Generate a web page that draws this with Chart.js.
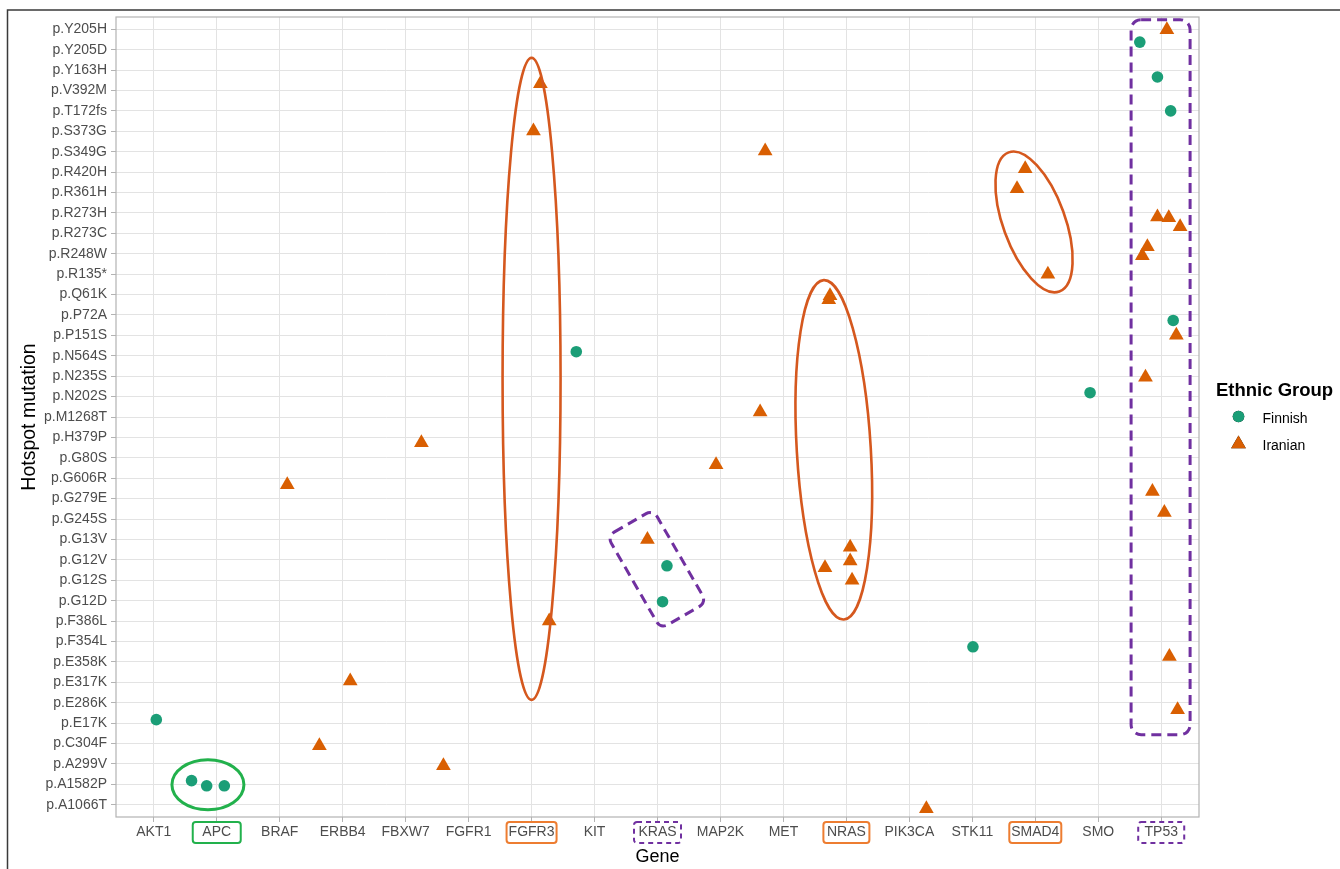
<!DOCTYPE html>
<html>
<head>
<meta charset="utf-8">
<script src="https://cdn.jsdelivr.net/npm/chart.js@4/dist/chart.umd.min.js"></script>
<style>
  html, body { margin: 0; padding: 0; background: #ffffff; }
  #wrap { width: 1340px; height: 869px; }
</style>
</head>
<body>
<div id="wrap"><canvas id="c" width="1340" height="869"></canvas></div>
<script>
// Genes along the x axis
const genes = ['AKT1', 'APC', 'BRAF', 'ERBB4', 'FBXW7', 'FGFR1', 'FGFR3', 'KIT', 'KRAS',
  'MAP2K', 'MET', 'NRAS', 'PIK3CA', 'STK11', 'SMAD4', 'SMO', 'TP53'];

// Hotspot mutations along the y axis, bottom to top
const mutations = ['p.A1066T', 'p.A1582P', 'p.A299V', 'p.C304F', 'p.E17K', 'p.E286K',
  'p.E317K', 'p.E358K', 'p.F354L', 'p.F386L', 'p.G12D', 'p.G12S', 'p.G12V', 'p.G13V',
  'p.G245S', 'p.G279E', 'p.G606R', 'p.G80S', 'p.H379P', 'p.M1268T', 'p.N202S', 'p.N235S',
  'p.N564S', 'p.P151S', 'p.P72A', 'p.Q61K', 'p.R135*', 'p.R248W', 'p.R273C', 'p.R273H',
  'p.R361H', 'p.R420H', 'p.S349G', 'p.S373G', 'p.T172fs', 'p.V392M', 'p.Y163H',
  'p.Y205D', 'p.Y205H'];

// Finnish cohort: gene, mutation and jitter (in category units)
const finnishGene = ['AKT1', 'APC', 'APC', 'APC', 'KIT', 'KRAS', 'KRAS', 'STK11', 'SMO',
  'TP53', 'TP53', 'TP53', 'TP53'];
const finnishMutation = ['p.E17K', 'p.A1582P', 'p.A1582P', 'p.A1582P', 'p.N564S', 'p.G12V',
  'p.G12D', 'p.F354L', 'p.N202S', 'p.Y205D', 'p.Y163H', 'p.T172fs', 'p.P72A'];
const finnishJitterX = [0.04, -0.40, -0.16, 0.12, -0.29, 0.15, 0.08, 0.01, -0.13,
  -0.34, -0.06, 0.15, 0.19];
const finnishJitterY = [0.17, 0.18, -0.07, -0.07, 0.20, -0.29, -0.05, -0.26, 0.19,
  0.37, -0.34, 0.00, -0.27];

// Iranian cohort: gene, mutation and jitter (in category units)
const iranianGene = ['BRAF', 'ERBB4', 'ERBB4', 'FBXW7', 'FGFR1', 'FGFR3', 'FGFR3', 'FGFR3',
  'KRAS', 'MAP2K', 'MET', 'MET', 'NRAS', 'NRAS', 'NRAS', 'NRAS', 'NRAS', 'NRAS', 'PIK3CA',
  'SMAD4', 'SMAD4', 'SMAD4', 'TP53', 'TP53', 'TP53', 'TP53', 'TP53', 'TP53', 'TP53',
  'TP53', 'TP53', 'TP53', 'TP53', 'TP53'];
const iranianMutation = ['p.G606R', 'p.E317K', 'p.C304F', 'p.H379P', 'p.A299V', 'p.V392M',
  'p.S373G', 'p.F386L', 'p.G13V', 'p.G80S', 'p.S349G', 'p.M1268T', 'p.Q61K', 'p.Q61K',
  'p.G13V', 'p.G12V', 'p.G12V', 'p.G12S', 'p.A1066T', 'p.R420H', 'p.R361H', 'p.R135*',
  'p.Y205H', 'p.R273H', 'p.R273H', 'p.R273C', 'p.R248W', 'p.R248W', 'p.P151S', 'p.N235S',
  'p.G279E', 'p.G245S', 'p.E358K', 'p.E286K'];
const iranianJitterX = [0.12, 0.12, -0.37, 0.25, -0.40, 0.14, 0.03, 0.28, -0.16, -0.07,
  -0.29, -0.37, -0.26, -0.28, 0.06, 0.06, -0.34, 0.09, 0.27, -0.16, -0.29, 0.20, 0.09,
  -0.06, 0.12, 0.30, -0.22, -0.30, 0.24, -0.25, -0.14, 0.05, 0.13, 0.26];
const iranianJitterY = [-0.32, 0.07, -0.11, -0.26, -0.09, 0.33, 0.02, 0.00, 0.00, -0.34,
  0.04, 0.25, -0.06, -0.25, -0.38, -0.05, -0.39, 0.00, -0.20, 0.16, 0.18, 0.00, -0.02,
  -0.20, -0.24, 0.32, 0.34, -0.10, 0.00, -0.05, 0.35, 0.32, 0.26, -0.34];

const FONT = '"Liberation Sans", Arial, Helvetica, sans-serif';
const GREEN = '#1b9e77';
const ORANGE = '#d95f02';

function toPoints(g, m, jx, jy) {
  return g.map((name, i) => ({
    x: genes.indexOf(name) + jx[i],
    y: mutations.indexOf(m[i]) + jy[i]
  }));
}

// Hand-drawn highlight shapes: centre given in category units, size in pixels
const highlightEllipses = [
  { gene: 0.86, mutation: 0.98, rx: 36, ry: 25, angle: 0, color: '#22b14c', width: 3 },
  { gene: 6.00, mutation: 20.87, rx: 29, ry: 321, angle: 0, color: '#d5581e', width: 2.6 },
  { gene: 10.80, mutation: 17.39, rx: 37, ry: 170, angle: -3.4, color: '#d5581e', width: 2.6 },
  { gene: 13.98, mutation: 28.56, rx: 31, ry: 74, angle: -20, color: '#d5581e', width: 2.6 }
];
const highlightFrames = [
  { gene: 7.99, mutation: 11.54, w: 53, h: 107, angle: -30, r: 8, color: '#7030a0' },
  { gene: 15.99, mutation: 20.95, w: 59, h: 715, angle: 0, r: 10, color: '#7030a0' }
];
const labelFrames = [
  { gene: 'APC', w: 48, color: '#22b14c', dashed: false },
  { gene: 'FGFR3', w: 50, color: '#ed7d31', dashed: false },
  { gene: 'KRAS', w: 47, color: '#7030a0', dashed: true },
  { gene: 'NRAS', w: 46, color: '#ed7d31', dashed: false },
  { gene: 'SMAD4', w: 52, color: '#ed7d31', dashed: false },
  { gene: 'TP53', w: 46, color: '#7030a0', dashed: true }
];

function roundRectPath(ctx, x, y, w, h, r) {
  ctx.beginPath();
  ctx.moveTo(x + r, y);
  ctx.lineTo(x + w - r, y);
  ctx.arcTo(x + w, y, x + w, y + r, r);
  ctx.lineTo(x + w, y + h - r);
  ctx.arcTo(x + w, y + h, x + w - r, y + h, r);
  ctx.lineTo(x + r, y + h);
  ctx.arcTo(x, y + h, x, y + h - r, r);
  ctx.lineTo(x, y + r);
  ctx.arcTo(x, y, x + r, y, r);
  ctx.closePath();
}

const decorations = {
  id: 'decorations',
  beforeDraw(chart) {
    const ctx = chart.ctx;
    ctx.save();
    ctx.fillStyle = '#ffffff';
    ctx.fillRect(0, 0, chart.width, chart.height);
    ctx.restore();
  },
  beforeDatasetsDraw(chart) {
    // panel border
    const { ctx, chartArea: a } = chart;
    ctx.save();
    ctx.strokeStyle = '#b3b3b3';
    ctx.lineWidth = 1.2;
    ctx.strokeRect(a.left, a.top, a.right - a.left, a.bottom - a.top);
    ctx.restore();
  },
  afterDraw(chart) {
    const { ctx, chartArea: a, scales: { x, y } } = chart;
    ctx.save();

    // outer frame
    ctx.strokeStyle = '#3a3a3a';
    ctx.lineWidth = 1.5;
    ctx.beginPath();
    ctx.moveTo(chart.width, 10);
    ctx.lineTo(7.5, 10);
    ctx.lineTo(7.5, chart.height);
    ctx.stroke();

    // ellipses around groups of points
    highlightEllipses.forEach(e => {
      ctx.beginPath();
      ctx.ellipse(x.getPixelForValue(e.gene), y.getPixelForValue(e.mutation),
        e.rx, e.ry, e.angle * Math.PI / 180, 0, Math.PI * 2);
      ctx.strokeStyle = e.color;
      ctx.lineWidth = e.width;
      ctx.setLineDash([]);
      ctx.stroke();
    });

    // dashed rounded frames
    highlightFrames.forEach(f => {
      ctx.save();
      ctx.translate(x.getPixelForValue(f.gene), y.getPixelForValue(f.mutation));
      ctx.rotate(f.angle * Math.PI / 180);
      roundRectPath(ctx, -f.w / 2, -f.h / 2, f.w, f.h, f.r);
      ctx.strokeStyle = f.color;
      ctx.lineWidth = 3;
      ctx.setLineDash([10, 6]);
      ctx.stroke();
      ctx.restore();
    });

    // boxes around selected gene labels
    labelFrames.forEach(b => {
      const cx = x.getPixelForValue(genes.indexOf(b.gene));
      roundRectPath(ctx, cx - b.w / 2, a.bottom + 5, b.w, 21, 3);
      ctx.strokeStyle = b.color;
      ctx.lineWidth = 2;
      ctx.setLineDash(b.dashed ? [5, 4] : []);
      ctx.stroke();
    });
    ctx.setLineDash([]);

    // legend
    ctx.fillStyle = '#000000';
    ctx.textAlign = 'left';
    ctx.textBaseline = 'alphabetic';
    ctx.font = 'bold 18.5px ' + FONT;
    ctx.fillText('Ethnic Group', 1216, 396);
    ctx.font = '14px ' + FONT;
    chart.data.datasets.forEach((ds, i) => {
      const cy = 416.5 + i * 27.5;
      Chart.helpers.drawPoint(ctx, {
        pointStyle: ds.pointStyle, radius: ds.pointRadius, rotation: 0, borderWidth: 0
      }, 1238.5, cy);
      ctx.fillStyle = ds.backgroundColor;
      ctx.fill();
      ctx.fillStyle = '#000000';
      ctx.fillText(ds.label, 1262.5, cy + 6);
    });
    ctx.restore();
  }
};

const tickFont = { family: FONT, size: 14 };

new Chart(document.getElementById('c'), {
  type: 'scatter',
  data: {
    datasets: [
      {
        label: 'Finnish',
        data: toPoints(finnishGene, finnishMutation, finnishJitterX, finnishJitterY),
        pointStyle: 'circle',
        pointRadius: 5.8,
        pointHoverRadius: 5.8,
        backgroundColor: GREEN,
        borderWidth: 0
      },
      {
        label: 'Iranian',
        data: toPoints(iranianGene, iranianMutation, iranianJitterX, iranianJitterY),
        pointStyle: 'triangle',
        pointRadius: 8.5,
        pointHoverRadius: 8.5,
        backgroundColor: ORANGE,
        borderWidth: 0
      }
    ]
  },
  options: {
    responsive: false,
    animation: false,
    devicePixelRatio: 1,
    clip: false,
    layout: { padding: { left: 0, right: 141, top: 17, bottom: 0 } },
    plugins: { legend: { display: false }, tooltip: { enabled: false } },
    scales: {
      x: {
        type: 'linear',
        min: -0.6,
        max: genes.length - 1 + 0.6,
        afterBuildTicks: s => { s.ticks = genes.map((g, i) => ({ value: i })); },
        afterFit: s => { s.height = 52; },
        ticks: {
          callback: v => genes[v],
          font: tickFont,
          color: '#4d4d4d',
          padding: 2,
          autoSkip: false,
          maxRotation: 0
        },
        grid: { color: '#e3e3e3', lineWidth: 1, tickLength: 5, tickColor: '#b3b3b3' },
        border: { display: false },
        title: { display: true, text: 'Gene', font: { family: FONT, size: 18 }, color: '#000000',
          padding: { top: 0, bottom: 1 } }
      },
      y: {
        type: 'linear',
        min: -0.6,
        max: mutations.length - 1 + 0.6,
        afterBuildTicks: s => { s.ticks = mutations.map((m, i) => ({ value: i })); },
        afterFit: s => { s.width = 116; },
        ticks: {
          callback: v => mutations[v],
          font: tickFont,
          color: '#4d4d4d',
          padding: 4,
          autoSkip: false
        },
        grid: { color: '#e3e3e3', lineWidth: 1, tickLength: 5, tickColor: '#b3b3b3' },
        border: { display: false },
        title: { display: true, text: 'Hotspot mutation', font: { family: FONT, size: 19.5 },
          color: '#000000', padding: { top: 18, bottom: 0 } }
      }
    }
  },
  plugins: [decorations]
});
</script>
</body>
</html>
